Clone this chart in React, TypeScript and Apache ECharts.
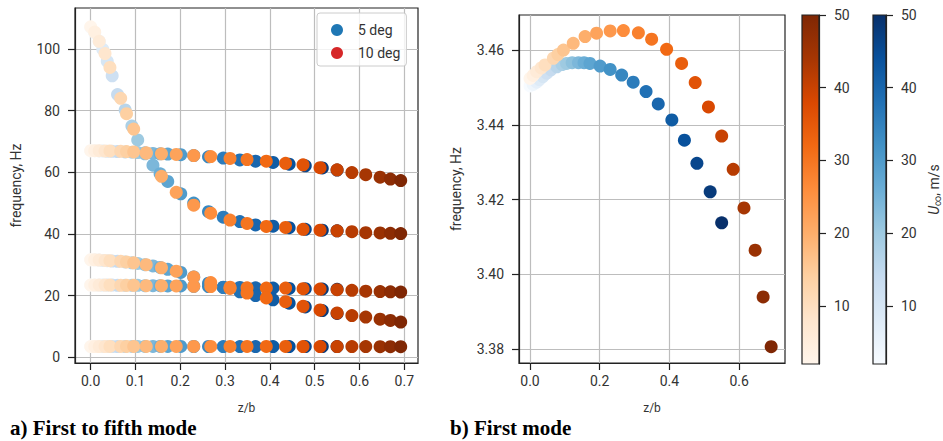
import React, { useEffect, useRef } from "react";
import * as echarts from "echarts";

// Wind speed U∞ (m/s) for each point
const U = [2, 4, 6, 8, 10, 12, 14, 16, 18, 20, 22, 24, 26, 28, 30, 32, 34, 36, 38, 40, 42, 44, 46, 48, 50];

// z/b for 5 deg and 10 deg
const zb5 = [0, 0.009, 0.019, 0.027, 0.037, 0.048, 0.060, 0.077, 0.092, 0.105, 0.121, 0.139, 0.155, 0.172, 0.201, 0.230, 0.263, 0.296, 0.333, 0.368, 0.407, 0.443, 0.479, 0.517, 0.550];
const zb10 = [0, 0.009, 0.019, 0.032, 0.043, 0.067, 0.080, 0.096, 0.124, 0.158, 0.191, 0.230, 0.268, 0.311, 0.349, 0.392, 0.435, 0.474, 0.512, 0.550, 0.583, 0.614, 0.646, 0.669, 0.692];

// First mode (Hz)
const f1_5 = [3.4504, 3.4508, 3.4514, 3.4521, 3.4529, 3.4538, 3.4547, 3.4555, 3.4561, 3.4564, 3.4566, 3.4566, 3.4566, 3.4564, 3.4557, 3.4548, 3.4533, 3.4514, 3.4489, 3.4456, 3.4413, 3.4359, 3.4297, 3.4221, 3.4138];
const f1_10 = [3.4524, 3.4532, 3.4542, 3.4552, 3.4560, 3.4578, 3.4588, 3.4600, 3.4618, 3.4636, 3.4645, 3.4651, 3.4652, 3.4646, 3.4629, 3.4602, 3.4564, 3.4513, 3.4448, 3.4370, 3.4281, 3.4178, 3.4065, 3.3940, 3.3807];

// Higher modes, 5 deg
const fA5 = [107.0, 105.3, 102.5, 99.9, 96.0, 91.3, 85.2, 80.2, 75.0, 70.5, 66.0, 62.3, 59.5, 57.0, 53.0, 50.0, 47.2, 45.4, 44.0, 42.9, 42.5, 42.0, 41.5, 41.2, 41.0];
const fB5 = [67.0, 67.0, 66.9, 66.9, 66.8, 66.8, 66.7, 66.6, 66.5, 66.4, 66.3, 66.1, 66.0, 65.9, 65.7, 65.4, 65.0, 64.6, 64.0, 63.6, 63.2, 62.6, 62.1, 61.4, 60.7];
const fC5 = [31.6, 31.6, 31.5, 31.4, 31.3, 31.2, 31.1, 30.9, 30.6, 30.4, 30.0, 29.6, 29.1, 28.5, 27.5, 26.0, 24.0, 22.6, 21.2, 20.0, 18.6, 17.5, 16.3, 15.1, 14.2];
const fD5 = [23.4, 23.4, 23.4, 23.4, 23.4, 23.4, 23.3, 23.3, 23.3, 23.3, 23.2, 23.2, 23.2, 23.1, 23.1, 23.0, 22.9, 22.7, 22.6, 22.5, 22.4, 22.3, 22.2, 22.1, 22.0];

// Higher modes, 10 deg
const fA10 = [107.2, 105.5, 102.5, 98.5, 94.0, 84.0, 79.0, 74.0, 66.2, 58.7, 53.5, 49.3, 46.7, 44.5, 43.4, 42.4, 42.1, 41.5, 41.2, 41.0, 40.7, 40.4, 40.3, 40.2, 40.1];
const fB10 = [67.0, 67.0, 67.0, 66.9, 66.9, 66.8, 66.7, 66.6, 66.3, 66.0, 65.8, 65.4, 65.1, 64.5, 64.1, 63.6, 62.9, 62.4, 61.5, 60.8, 59.9, 59.2, 58.4, 57.8, 57.3];
const fC10 = [31.6, 31.6, 31.5, 31.4, 31.3, 31.1, 30.9, 30.6, 30.0, 29.0, 27.9, 26.0, 24.2, 22.3, 20.8, 19.2, 18.0, 16.5, 15.3, 14.3, 13.5, 13.0, 12.3, 11.9, 11.4];
const fD10 = [23.4, 23.4, 23.4, 23.4, 23.4, 23.3, 23.3, 23.3, 23.2, 23.2, 23.1, 23.0, 22.9, 22.7, 22.5, 22.4, 22.4, 22.2, 22.1, 21.9, 21.7, 21.4, 21.3, 21.2, 21.1];

// Tick labels
const xTicksLeft = [0, 0.1, 0.2, 0.3, 0.4, 0.5, 0.6, 0.7];
const yTicksLeft = [0, 20, 40, 60, 80, 100];
const xTicksRight = [0, 0.2, 0.4, 0.6];
const yTicksRight = [3.38, 3.40, 3.42, 3.44, 3.46];
const cbTicks = [10, 20, 30, 40, 50];

const ORANGES = ["#fff5eb", "#fee6ce", "#fdd0a2", "#fdae6b", "#fd8d3c", "#f16913", "#d94801", "#a63603", "#7f2704"];
const BLUES = ["#f7fbff", "#deebf7", "#c6dbef", "#9ecae1", "#6baed6", "#4292c6", "#2171b5", "#08519c", "#08306b"];

const pts = (z: number[], f: number[]) => z.map((zz, i) => [zz, f[i], U[i]]);

export default function App() {
  const ref = useRef<HTMLDivElement>(null);
  useEffect(() => {
    document.body.style.margin = "0";
    const chart = echarts.init(ref.current!, undefined, { renderer: "svg" });
    const font = "Roboto";
    const lbl = { color: "#333", fontFamily: font, fontSize: 14 };
    const gridLine = { show: true, lineStyle: { color: "#bdbdbd", width: 1.2 } };
    const axLine = { show: true, onZero: false, lineStyle: { color: "#222", width: 1.2 } };
    const grad = (cols: string[]) =>
      new echarts.graphic.LinearGradient(0, 1, 0, 0, cols.map((c, i) => ({ offset: i / (cols.length - 1), color: c })));

    const left5 = [...pts(zb5, f1_5), ...pts(zb5, fD5), ...pts(zb5, fC5), ...pts(zb5, fB5), ...pts(zb5, fA5)];
    const left10 = [...pts(zb10, f1_10), ...pts(zb10, fD10), ...pts(zb10, fC10), ...pts(zb10, fB10), ...pts(zb10, fA10)];

    const xAx = (gi: number, min: number, max: number, ticks: number[]) => ({
      type: "value", gridIndex: gi, min, max,
      name: "z/b", nameLocation: "middle", nameGap: 39,
      nameTextStyle: { color: "#333", fontFamily: font, fontSize: 12 },
      axisLine: axLine,
      axisTick: { show: true, length: 7, customValues: ticks, lineStyle: { color: "#222", width: 1.2 } },
      axisLabel: { ...lbl, margin: 11, customValues: ticks, formatter: (v: number) => v.toFixed(1) },
      splitLine: gridLine,
    });
    const yAx = (gi: number, min: number, max: number, ticks: number[], dec: number, gap: number) => ({
      type: "value", gridIndex: gi, min, max,
      name: "frequency, Hz", nameLocation: "middle", nameGap: gap, nameRotate: 90,
      nameTextStyle: { color: "#333", fontFamily: font, fontSize: 14 },
      axisLine: axLine,
      axisTick: { show: true, length: 7, customValues: ticks, lineStyle: { color: "#222", width: 1.2 } },
      axisLabel: { ...lbl, margin: 15, customValues: ticks, formatter: (v: number) => v.toFixed(dec) },
      splitLine: gridLine,
    });
    const cbY = (gi: number, name: string) => ({
      type: "value", gridIndex: gi, min: 2, max: 50, position: "right",
      name, nameLocation: "middle", nameGap: 40, nameRotate: 90,
      nameTextStyle: {
        color: "#333", fontFamily: font, fontSize: 14,
        rich: {
          i: { fontStyle: "italic", fontFamily: font, fontSize: 14, color: "#333" },
          s: { fontFamily: font, fontSize: 10, color: "#333", verticalAlign: "bottom", padding: [6, 0, 0, 0] },
        },
      },
      axisLine: axLine,
      axisTick: { show: true, length: 7, customValues: cbTicks, lineStyle: { color: "#222", width: 1.2 } },
      axisLabel: { ...lbl, margin: 15, customValues: cbTicks },
      splitLine: { show: false },
    });

    chart.setOption({
      animation: false,
      backgroundColor: "#fff",
      grid: [
        { left: 75, top: 8, width: 343, height: 355, show: true, borderColor: "#222", borderWidth: 1.2, backgroundColor: "transparent" },
        { left: 519, top: 15, width: 266, height: 348, show: true, borderColor: "#222", borderWidth: 1.2, backgroundColor: "transparent" },
        { left: 802, top: 15, width: 17, height: 349, show: true, borderColor: "#222", borderWidth: 1.2, backgroundColor: grad(ORANGES) },
        { left: 873, top: 15, width: 17, height: 349, show: true, borderColor: "#222", borderWidth: 1.2, backgroundColor: grad(BLUES) },
      ],
      xAxis: [
        xAx(0, -0.035, 0.7306, xTicksLeft),
        xAx(1, -0.0316, 0.7317, xTicksRight),
        { type: "value", gridIndex: 2, min: 0, max: 1, show: false },
        { type: "value", gridIndex: 3, min: 0, max: 1, show: false },
      ],
      yAxis: [
        yAx(0, -1.9, 113.3, yTicksLeft, 0, 52),
        yAx(1, 3.37634, 3.46936, yTicksRight, 2, 56),
        cbY(2, ""),
        cbY(3, "{i|U}{s|∞}, m/s"),
      ],
      visualMap: [
        { type: "continuous", show: false, min: 2, max: 50, dimension: 2, seriesIndex: [0, 2], inRange: { color: BLUES } },
        { type: "continuous", show: false, min: 2, max: 50, dimension: 2, seriesIndex: [1, 3], inRange: { color: ORANGES } },
      ],
      legend: {
        left: 317, top: 13, orient: "vertical",
        data: [
          { name: "5 deg", icon: "circle", itemStyle: { color: "#1f77b4" } },
          { name: "10 deg", icon: "circle", itemStyle: { color: "#d62728" } },
        ],
        itemWidth: 12, itemHeight: 12, itemGap: 9,
        padding: [10, 6, 6, 14],
        backgroundColor: "rgba(255,255,255,0.8)", borderColor: "#ccc", borderWidth: 1, borderRadius: 3,
        textStyle: { color: "#333", fontFamily: font, fontSize: 14, padding: [0, 0, 0, 10], lineHeight: 12 },
      },
      series: [
        { name: "5 deg", type: "scatter", xAxisIndex: 0, yAxisIndex: 0, symbolSize: 13, itemStyle: { color: "#1f77b4", opacity: 1 }, data: left5 },
        { name: "10 deg", type: "scatter", xAxisIndex: 0, yAxisIndex: 0, symbolSize: 13, itemStyle: { color: "#d62728", opacity: 1 }, data: left10 },
        { name: "5 deg", type: "scatter", xAxisIndex: 1, yAxisIndex: 1, symbolSize: 13, itemStyle: { color: "#1f77b4", opacity: 1 }, data: pts(zb5, f1_5) },
        { name: "10 deg", type: "scatter", xAxisIndex: 1, yAxisIndex: 1, symbolSize: 13, itemStyle: { color: "#d62728", opacity: 1 }, data: pts(zb10, f1_10) },
      ],
      graphic: [
        { type: "text", left: 10, top: 417, style: { text: "a) First to fifth mode", font: "bold 21px 'Liberation Serif'", fill: "#000" } },
        { type: "text", left: 450, top: 417, style: { text: "b) First mode", font: "bold 21px 'Liberation Serif'", fill: "#000" } },
      ],
    });
    return () => chart.dispose();
  }, []);
  return <div ref={ref} style={{ width: 943, height: 441 }} />;
}
